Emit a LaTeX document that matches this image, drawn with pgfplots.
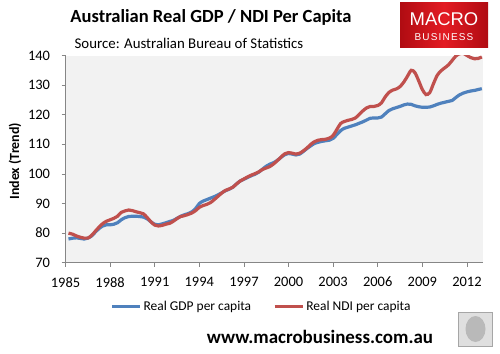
\documentclass[border=0pt]{standalone}
\usepackage{fontspec}
\setmainfont{Carlito}
\newfontfamily\logofont{Liberation Sans}
\usepackage{pgfplots}
\pgfplotsset{compat=1.18}
\definecolor{gdpblue}{HTML}{4F81BD}
\definecolor{ndired}{HTML}{C0504D}
\definecolor{plotbg}{HTML}{F2F2F2}
\definecolor{axgray}{HTML}{868686}
\definecolor{mbred}{HTML}{E31B23}
\definecolor{mbdark}{HTML}{B00C12}
\begin{document}
\begin{tikzpicture}[x=1bp,y=1bp]
\path[use as bounding box] (0,0) rectangle (500,353);
% title and subtitle
\node[font=\fontsize{18.6}{22}\selectfont\bfseries] at (211,336) {Australian Real GDP / NDI Per Capita};
\node[font=\fontsize{14.9}{18}\selectfont] at (189,310) {Source: Australian Bureau of Statistics};
% logo
\shade[left color=mbdark, right color=mbdark, middle color=mbred] (400,306) rectangle (488,350);
\node[white, font=\logofont\fontsize{18.5}{20}\selectfont] at (444,334) {MACRO};
\node[white, font=\logofont\fontsize{10}{12}\selectfont\addfontfeatures{LetterSpace=12}] at (444,316) {BUSINESS};
% URL
\node[font=\fontsize{19}{22}\selectfont\bfseries] at (320,16) {www.macrobusiness.com.au};
% wolf box
\filldraw[fill=gray!25, draw=gray!70, line width=1bp] (458.5,6.5) rectangle (492.5,41);
\fill[gray!55] (475.5,24) ellipse (10 and 13);
\begin{axis}[
  at={(65.5bp,90.3bp)}, anchor=south west,
  scale only axis, width=417.8bp, height=207.2bp,
  xmin=1985, xmax=2013.1, ymin=70, ymax=140,
  xtick={1985,1988,...,2012}, ytick={70,80,...,140},
  axis x line*=bottom, axis y line*=left,
  axis line style={axgray, line width=0.8bp, -},
  axis background/.style={fill=plotbg},
  tick align=outside, major tick length=4bp,
  tick style={axgray, line width=0.8bp},
  xticklabel style={/pgf/number format/1000 sep={}, font=\fontsize{14.5}{16}\selectfont, yshift=-7bp},
  yticklabel style={font=\fontsize{14.5}{16}\selectfont, xshift=-8bp},
  /pgf/number format/assume math mode=true,
  ylabel={Index (Trend)},
  ylabel style={font=\fontsize{14}{16}\selectfont\bfseries, at={(axis description cs:-0.121,0.49)}, anchor=center, rotate=0},
  legend columns=2,
  legend style={at={(0.469,-0.21)}, anchor=center, draw=none, fill=none,
    font=\fontsize{13.5}{15}\selectfont, /tikz/every even column/.append style={column sep=20bp}},
  legend image code/.code={\draw[#1] (0bp,0bp) -- (28bp,0bp);},
  every axis plot/.append style={line width=3.2bp, smooth, tension=0.5},
]
\addplot[gdpblue] coordinates {
(1985.2,78.0) (1985.5,78.3) (1985.75,78.4) (1986.0,78.2) (1986.25,78.0) (1986.5,78.3)
(1986.75,79.0) (1987.0,80.3) (1987.25,81.5) (1987.5,82.4) (1987.75,82.8) (1988.0,82.8)
(1988.25,83.0) (1988.5,83.5) (1988.75,84.5) (1989.0,85.2) (1989.25,85.6) (1989.5,85.7)
(1989.75,85.7) (1990.0,85.6) (1990.25,85.4) (1990.5,84.8) (1990.75,83.8) (1991.0,83.0)
(1991.25,82.8) (1991.5,83.1) (1991.75,83.5) (1992.0,83.9) (1992.25,84.3) (1992.5,85.0)
(1992.75,85.7) (1993.0,86.2) (1993.25,86.6) (1993.5,87.2) (1993.75,88.3) (1994.0,90.0)
(1994.25,90.8) (1994.5,91.3) (1994.75,91.8) (1995.0,92.3) (1995.25,92.9) (1995.5,93.6)
(1995.75,94.3) (1996.0,94.8) (1996.25,95.5) (1996.5,96.6) (1996.75,97.6) (1997.0,98.2)
(1997.25,98.8) (1997.5,99.4) (1997.75,99.9) (1998.0,100.6) (1998.25,101.6) (1998.5,102.6)
(1998.75,103.3) (1999.0,103.8) (1999.25,104.6) (1999.5,105.6) (1999.75,106.5) (2000.0,106.9)
(2000.25,106.7) (2000.5,106.4) (2000.75,106.7) (2001.0,107.6) (2001.25,108.6) (2001.5,109.5)
(2001.75,110.3) (2002.0,110.7) (2002.25,111.0) (2002.5,111.2) (2002.75,111.4) (2003.0,112.0)
(2003.25,113.3) (2003.5,114.6) (2003.75,115.4) (2004.0,115.8) (2004.25,116.2) (2004.5,116.6)
(2004.75,117.1) (2005.0,117.6) (2005.25,118.2) (2005.5,118.8) (2005.75,118.9) (2006.0,118.9)
(2006.25,119.2) (2006.5,120.3) (2006.75,121.4) (2007.0,122.0) (2007.25,122.4) (2007.5,122.8)
(2007.75,123.3) (2008.0,123.6) (2008.25,123.5) (2008.5,123.0) (2008.75,122.7) (2009.0,122.5)
(2009.25,122.5) (2009.5,122.6) (2009.75,123.0) (2010.0,123.5) (2010.25,123.9) (2010.5,124.2)
(2010.75,124.5) (2011.0,124.8) (2011.25,125.8) (2011.5,126.7) (2011.75,127.3) (2012.0,127.7)
(2012.25,128.0) (2012.5,128.2) (2012.75,128.5) (2013.0,128.8)
};
\addlegendentry{Real GDP per capita}
\addplot[ndired] coordinates {
(1985.2,80.0) (1985.5,79.6) (1985.75,79.0) (1986.0,78.6) (1986.25,78.3) (1986.5,78.3)
(1986.75,79.2) (1987.0,80.6) (1987.25,82.0) (1987.5,83.2) (1987.75,84.0) (1988.0,84.5)
(1988.25,85.0) (1988.5,85.7) (1988.75,87.0) (1989.0,87.5) (1989.25,87.8) (1989.5,87.6)
(1989.75,87.2) (1990.0,86.9) (1990.25,86.5) (1990.5,85.2) (1990.75,83.8) (1991.0,82.7)
(1991.25,82.4) (1991.5,82.6) (1991.75,83.0) (1992.0,83.3) (1992.25,84.0) (1992.5,84.9)
(1992.75,85.6) (1993.0,85.9) (1993.25,86.3) (1993.5,86.8) (1993.75,87.6) (1994.0,88.7)
(1994.25,89.3) (1994.5,89.7) (1994.75,90.3) (1995.0,91.3) (1995.25,92.4) (1995.5,93.5)
(1995.75,94.4) (1996.0,94.9) (1996.25,95.5) (1996.5,96.6) (1996.75,97.6) (1997.0,98.3)
(1997.25,99.0) (1997.5,99.6) (1997.75,100.1) (1998.0,100.7) (1998.25,101.5) (1998.5,102.0)
(1998.75,102.5) (1999.0,103.4) (1999.25,104.5) (1999.5,105.7) (1999.75,106.8) (2000.0,107.2)
(2000.25,107.0) (2000.5,106.7) (2000.75,107.0) (2001.0,107.8) (2001.25,108.8) (2001.5,110.0)
(2001.75,110.9) (2002.0,111.4) (2002.25,111.6) (2002.5,111.7) (2002.75,112.1) (2003.0,113.0)
(2003.25,115.0) (2003.5,117.0) (2003.75,117.7) (2004.0,118.1) (2004.25,118.4) (2004.5,118.9)
(2004.75,120.1) (2005.0,121.3) (2005.25,122.3) (2005.5,122.8) (2005.75,122.8) (2006.0,123.1)
(2006.25,124.0) (2006.5,126.0) (2006.75,127.5) (2007.0,128.3) (2007.25,128.7) (2007.5,129.5)
(2007.75,131.0) (2008.0,133.0) (2008.25,135.0) (2008.5,134.2) (2008.75,131.5) (2009.0,128.5)
(2009.25,126.8) (2009.5,127.5) (2009.75,130.5) (2010.0,133.3) (2010.25,134.8) (2010.5,135.8)
(2010.75,136.8) (2011.0,138.3) (2011.25,139.8) (2011.5,140.6) (2011.75,140.7) (2012.0,140.0)
(2012.25,139.3) (2012.5,138.9) (2012.75,139.0) (2013.0,139.5)
};
\addlegendentry{Real NDI per capita}
\end{axis}
\end{tikzpicture}
\end{document}
